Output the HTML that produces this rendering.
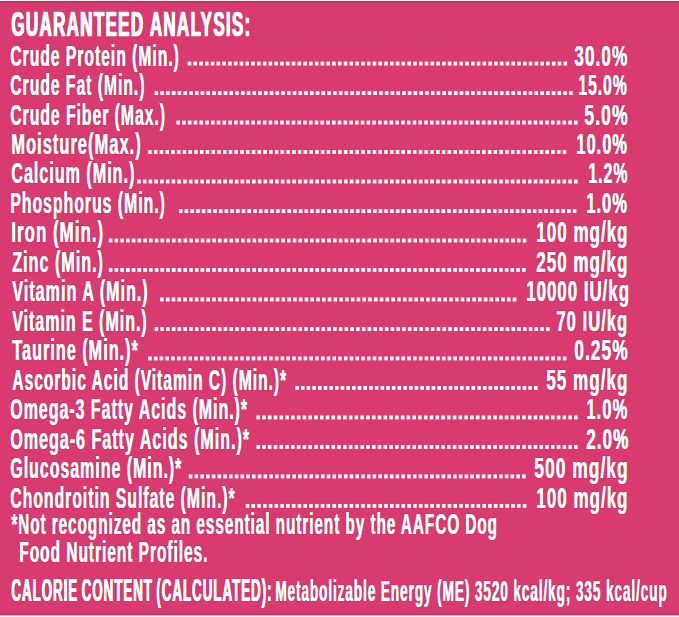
<!DOCTYPE html>
<html><head><meta charset="utf-8"><style>
html,body{margin:0;padding:0;}
body{width:679px;height:617px;overflow:hidden;background:#d93a70;position:relative;font-family:"Liberation Sans",sans-serif;font-weight:bold;color:#fff;}
.t{position:absolute;white-space:nowrap;line-height:1;transform-origin:0 0;-webkit-text-stroke-color:#fff;}
.bt{position:absolute;left:0;width:679px;}
</style></head><body>
<div class="bt" style="top:0;height:1px;background:#fbf0f8"></div><div class="bt" style="top:1px;height:1px;background:#a83a62"></div><div class="bt" style="top:2px;height:1px;background:#c23a6a"></div>
<div class="bt" style="top:608px;height:6px;background:#d43a70"></div><div class="bt" style="top:614px;height:1px;background:#b03262"></div><div class="bt" style="top:615px;height:1px;background:#e6aac4"></div><div class="bt" style="top:616px;height:1px;background:#fcf4fa"></div>
<div class="t" id="title" style="left:11.04px;top:6.76px;font-size:34.9px;letter-spacing:2.6px;-webkit-text-stroke-width:0.6px;text-shadow:1.6px 0 0 #fff,0.8px 0 0 #fff,0 0 1.5px rgba(100,0,40,0.9);transform:scaleX(0.4887)">GUARANTEED ANALYSIS:</div>
<div class="t" id="l0" style="left:9.92px;top:40.53px;font-size:29.5px;letter-spacing:1.8px;text-shadow:0.9px 0 0 #fff,0 0 1.5px rgba(100,0,40,0.9);transform:scaleX(0.5333)">Crude Protein (Min.)</div>
<div class="t" id="v0" style="left:574.17px;top:40.53px;font-size:29.5px;letter-spacing:1.8px;text-shadow:0.9px 0 0 #fff,0 0 1.5px rgba(100,0,40,0.9);transform:scaleX(0.5827)">30.0%</div>
<div class="t" id="l1" style="left:9.91px;top:70.02px;font-size:29.5px;letter-spacing:1.8px;text-shadow:0.9px 0 0 #fff,0 0 1.5px rgba(100,0,40,0.9);transform:scaleX(0.5335)">Crude Fat (Min.)</div>
<div class="t" id="v1" style="left:578.34px;top:70.02px;font-size:29.5px;letter-spacing:1.8px;text-shadow:0.9px 0 0 #fff,0 0 1.5px rgba(100,0,40,0.9);transform:scaleX(0.5353)">15.0%</div>
<div class="t" id="l2" style="left:9.91px;top:99.51px;font-size:29.5px;letter-spacing:1.8px;text-shadow:0.9px 0 0 #fff,0 0 1.5px rgba(100,0,40,0.9);transform:scaleX(0.5342)">Crude Fiber (Max.)</div>
<div class="t" id="v2" style="left:584.19px;top:99.51px;font-size:29.5px;letter-spacing:1.8px;text-shadow:0.9px 0 0 #fff,0 0 1.5px rgba(100,0,40,0.9);transform:scaleX(0.5968)">5.0%</div>
<div class="t" id="l3" style="left:10.89px;top:129.00px;font-size:29.5px;letter-spacing:1.8px;text-shadow:0.9px 0 0 #fff,0 0 1.5px rgba(100,0,40,0.9);transform:scaleX(0.5589)">Moisture(Max.)</div>
<div class="t" id="v3" style="left:576.29px;top:129.00px;font-size:29.5px;letter-spacing:1.8px;text-shadow:0.9px 0 0 #fff,0 0 1.5px rgba(100,0,40,0.9);transform:scaleX(0.5587)">10.0%</div>
<div class="t" id="l4" style="left:10.89px;top:158.49px;font-size:29.5px;letter-spacing:1.8px;text-shadow:0.9px 0 0 #fff,0 0 1.5px rgba(100,0,40,0.9);transform:scaleX(0.5469)">Calcium (Min.)</div>
<div class="t" id="v4" style="left:587.94px;top:158.49px;font-size:29.5px;letter-spacing:1.8px;text-shadow:0.9px 0 0 #fff,0 0 1.5px rgba(100,0,40,0.9);transform:scaleX(0.5397)">1.2%</div>
<div class="t" id="l5" style="left:9.91px;top:187.98px;font-size:29.5px;letter-spacing:1.8px;text-shadow:0.9px 0 0 #fff,0 0 1.5px rgba(100,0,40,0.9);transform:scaleX(0.5374)">Phosphorus (Min.)</div>
<div class="t" id="v5" style="left:586.28px;top:187.98px;font-size:29.5px;letter-spacing:1.8px;text-shadow:0.9px 0 0 #fff,0 0 1.5px rgba(100,0,40,0.9);transform:scaleX(0.5596)">1.0%</div>
<div class="t" id="l6" style="left:10.88px;top:217.47px;font-size:29.5px;letter-spacing:1.8px;text-shadow:0.9px 0 0 #fff,0 0 1.5px rgba(100,0,40,0.9);transform:scaleX(0.5719)">Iron (Min.)</div>
<div class="t" id="v6" style="left:536.21px;top:217.47px;font-size:29.5px;letter-spacing:1.8px;text-shadow:0.9px 0 0 #fff,0 0 1.5px rgba(100,0,40,0.9);transform:scaleX(0.5748)">100 mg/kg</div>
<div class="t" id="l7" style="left:11.79px;top:246.96px;font-size:29.5px;letter-spacing:1.8px;text-shadow:0.9px 0 0 #fff,0 0 1.5px rgba(100,0,40,0.9);transform:scaleX(0.5478)">Zinc (Min.)</div>
<div class="t" id="v7" style="left:536.14px;top:246.96px;font-size:29.5px;letter-spacing:1.8px;text-shadow:0.9px 0 0 #fff,0 0 1.5px rgba(100,0,40,0.9);transform:scaleX(0.5745)">250 mg/kg</div>
<div class="t" id="l8" style="left:11.80px;top:276.45px;font-size:29.5px;letter-spacing:1.8px;text-shadow:0.9px 0 0 #fff,0 0 1.5px rgba(100,0,40,0.9);transform:scaleX(0.5481)">Vitamin A (Min.)</div>
<div class="t" id="v8" style="left:525.68px;top:276.45px;font-size:29.5px;letter-spacing:1.8px;text-shadow:0.9px 0 0 #fff,0 0 1.5px rgba(100,0,40,0.9);transform:scaleX(0.5692)">10000 IU/kg</div>
<div class="t" id="l9" style="left:11.79px;top:305.94px;font-size:29.5px;letter-spacing:1.8px;text-shadow:0.9px 0 0 #fff,0 0 1.5px rgba(100,0,40,0.9);transform:scaleX(0.5426)">Vitamin E (Min.)</div>
<div class="t" id="v9" style="left:556.29px;top:305.94px;font-size:29.5px;letter-spacing:1.8px;text-shadow:0.9px 0 0 #fff,0 0 1.5px rgba(100,0,40,0.9);transform:scaleX(0.5650)">70 IU/kg</div>
<div class="t" id="l10" style="left:11.80px;top:335.43px;font-size:29.5px;letter-spacing:1.8px;text-shadow:0.9px 0 0 #fff,0 0 1.5px rgba(100,0,40,0.9);transform:scaleX(0.5510)">Taurine (Min.)*</div>
<div class="t" id="v10" style="left:574.41px;top:335.43px;font-size:29.5px;letter-spacing:1.8px;text-shadow:0.9px 0 0 #fff,0 0 1.5px rgba(100,0,40,0.9);transform:scaleX(0.5863)">0.25%</div>
<div class="t" id="l11" style="left:11.79px;top:364.92px;font-size:29.5px;letter-spacing:1.8px;text-shadow:0.9px 0 0 #fff,0 0 1.5px rgba(100,0,40,0.9);transform:scaleX(0.5301)">Ascorbic Acid (Vitamin C) (Min.)*</div>
<div class="t" id="v11" style="left:546.24px;top:364.92px;font-size:29.5px;letter-spacing:1.8px;text-shadow:0.9px 0 0 #fff,0 0 1.5px rgba(100,0,40,0.9);transform:scaleX(0.5774)">55 mg/kg</div>
<div class="t" id="l12" style="left:9.90px;top:394.41px;font-size:29.5px;letter-spacing:1.8px;text-shadow:0.9px 0 0 #fff,0 0 1.5px rgba(100,0,40,0.9);transform:scaleX(0.5414)">Omega-3 Fatty Acids (Min.)*</div>
<div class="t" id="v12" style="left:586.40px;top:394.41px;font-size:29.5px;letter-spacing:1.8px;text-shadow:0.9px 0 0 #fff,0 0 1.5px rgba(100,0,40,0.9);transform:scaleX(0.5658)">1.0%</div>
<div class="t" id="l13" style="left:9.90px;top:423.90px;font-size:29.5px;letter-spacing:1.8px;text-shadow:0.9px 0 0 #fff,0 0 1.5px rgba(100,0,40,0.9);transform:scaleX(0.5458)">Omega-6 Fatty Acids (Min.)*</div>
<div class="t" id="v13" style="left:585.77px;top:423.90px;font-size:29.5px;letter-spacing:1.8px;text-shadow:0.9px 0 0 #fff,0 0 1.5px rgba(100,0,40,0.9);transform:scaleX(0.5789)">2.0%</div>
<div class="t" id="l14" style="left:9.90px;top:453.39px;font-size:29.5px;letter-spacing:1.8px;text-shadow:0.9px 0 0 #fff,0 0 1.5px rgba(100,0,40,0.9);transform:scaleX(0.5414)">Glucosamine (Min.)*</div>
<div class="t" id="v14" style="left:534.21px;top:453.39px;font-size:29.5px;letter-spacing:1.8px;text-shadow:0.9px 0 0 #fff,0 0 1.5px rgba(100,0,40,0.9);transform:scaleX(0.5883)">500 mg/kg</div>
<div class="t" id="l15" style="left:9.92px;top:482.88px;font-size:29.5px;letter-spacing:1.8px;text-shadow:0.9px 0 0 #fff,0 0 1.5px rgba(100,0,40,0.9);transform:scaleX(0.5359)">Chondroitin Sulfate (Min.)*</div>
<div class="t" id="v15" style="left:536.21px;top:482.88px;font-size:29.5px;letter-spacing:1.8px;text-shadow:0.9px 0 0 #fff,0 0 1.5px rgba(100,0,40,0.9);transform:scaleX(0.5748)">100 mg/kg</div>
<div class="t" id="f1" style="left:11.03px;top:509.17px;font-size:29.8px;letter-spacing:1.8px;text-shadow:0.9px 0 0 #fff,0 0 1.5px rgba(100,0,40,0.9);transform:scaleX(0.5154)">*Not recognized as an essential nutrient by the AAFCO Dog</div>
<div class="t" id="f2" style="left:19.36px;top:537.17px;font-size:29.8px;letter-spacing:1.8px;text-shadow:0.9px 0 0 #fff,0 0 1.5px rgba(100,0,40,0.9);transform:scaleX(0.5217)">Food Nutrient Profiles.</div>
<div class="t" id="c1" style="left:10.92px;top:573.51px;font-size:32px;letter-spacing:2.2px;word-spacing:-3px;text-shadow:1.5px 0 0 #fff,0.75px 0 0 #fff,0 0 1.5px rgba(100,0,40,0.9);transform:scaleX(0.4195)">CALORIE CONTENT (CALCULATED):</div>
<div class="t" id="c2" style="left:274.96px;top:575.67px;font-size:29.8px;letter-spacing:1.8px;text-shadow:0.9px 0 0 #fff,0 0 1.5px rgba(100,0,40,0.9);transform:scaleX(0.4614)">Metabolizable Energy (ME) 3520 kcal/kg; 335 kcal/cup</div>
<svg width="679" height="617" style="position:absolute;left:0;top:0"><g fill="#fff"><rect x="187.60" y="61.60" width="3.6" height="3.9"/><rect x="193.38" y="61.60" width="3.6" height="3.9"/><rect x="199.17" y="61.60" width="3.6" height="3.9"/><rect x="204.95" y="61.60" width="3.6" height="3.9"/><rect x="210.73" y="61.60" width="3.6" height="3.9"/><rect x="216.52" y="61.60" width="3.6" height="3.9"/><rect x="222.30" y="61.60" width="3.6" height="3.9"/><rect x="228.08" y="61.60" width="3.6" height="3.9"/><rect x="233.86" y="61.60" width="3.6" height="3.9"/><rect x="239.65" y="61.60" width="3.6" height="3.9"/><rect x="245.43" y="61.60" width="3.6" height="3.9"/><rect x="251.21" y="61.60" width="3.6" height="3.9"/><rect x="257.00" y="61.60" width="3.6" height="3.9"/><rect x="262.78" y="61.60" width="3.6" height="3.9"/><rect x="268.56" y="61.60" width="3.6" height="3.9"/><rect x="274.35" y="61.60" width="3.6" height="3.9"/><rect x="280.13" y="61.60" width="3.6" height="3.9"/><rect x="285.91" y="61.60" width="3.6" height="3.9"/><rect x="291.70" y="61.60" width="3.6" height="3.9"/><rect x="297.48" y="61.60" width="3.6" height="3.9"/><rect x="303.26" y="61.60" width="3.6" height="3.9"/><rect x="309.04" y="61.60" width="3.6" height="3.9"/><rect x="314.83" y="61.60" width="3.6" height="3.9"/><rect x="320.61" y="61.60" width="3.6" height="3.9"/><rect x="326.39" y="61.60" width="3.6" height="3.9"/><rect x="332.18" y="61.60" width="3.6" height="3.9"/><rect x="337.96" y="61.60" width="3.6" height="3.9"/><rect x="343.74" y="61.60" width="3.6" height="3.9"/><rect x="349.53" y="61.60" width="3.6" height="3.9"/><rect x="355.31" y="61.60" width="3.6" height="3.9"/><rect x="361.09" y="61.60" width="3.6" height="3.9"/><rect x="366.88" y="61.60" width="3.6" height="3.9"/><rect x="372.66" y="61.60" width="3.6" height="3.9"/><rect x="378.44" y="61.60" width="3.6" height="3.9"/><rect x="384.22" y="61.60" width="3.6" height="3.9"/><rect x="390.01" y="61.60" width="3.6" height="3.9"/><rect x="395.79" y="61.60" width="3.6" height="3.9"/><rect x="401.57" y="61.60" width="3.6" height="3.9"/><rect x="407.36" y="61.60" width="3.6" height="3.9"/><rect x="413.14" y="61.60" width="3.6" height="3.9"/><rect x="418.92" y="61.60" width="3.6" height="3.9"/><rect x="424.71" y="61.60" width="3.6" height="3.9"/><rect x="430.49" y="61.60" width="3.6" height="3.9"/><rect x="436.27" y="61.60" width="3.6" height="3.9"/><rect x="442.06" y="61.60" width="3.6" height="3.9"/><rect x="447.84" y="61.60" width="3.6" height="3.9"/><rect x="453.62" y="61.60" width="3.6" height="3.9"/><rect x="459.40" y="61.60" width="3.6" height="3.9"/><rect x="465.19" y="61.60" width="3.6" height="3.9"/><rect x="470.97" y="61.60" width="3.6" height="3.9"/><rect x="476.75" y="61.60" width="3.6" height="3.9"/><rect x="482.54" y="61.60" width="3.6" height="3.9"/><rect x="488.32" y="61.60" width="3.6" height="3.9"/><rect x="494.10" y="61.60" width="3.6" height="3.9"/><rect x="499.89" y="61.60" width="3.6" height="3.9"/><rect x="505.67" y="61.60" width="3.6" height="3.9"/><rect x="511.45" y="61.60" width="3.6" height="3.9"/><rect x="517.24" y="61.60" width="3.6" height="3.9"/><rect x="523.02" y="61.60" width="3.6" height="3.9"/><rect x="528.80" y="61.60" width="3.6" height="3.9"/><rect x="534.58" y="61.60" width="3.6" height="3.9"/><rect x="540.37" y="61.60" width="3.6" height="3.9"/><rect x="546.15" y="61.60" width="3.6" height="3.9"/><rect x="551.93" y="61.60" width="3.6" height="3.9"/><rect x="557.72" y="61.60" width="3.6" height="3.9"/><rect x="563.50" y="61.60" width="3.6" height="3.9"/><rect x="154.60" y="91.09" width="3.6" height="3.9"/><rect x="160.36" y="91.09" width="3.6" height="3.9"/><rect x="166.11" y="91.09" width="3.6" height="3.9"/><rect x="171.87" y="91.09" width="3.6" height="3.9"/><rect x="177.62" y="91.09" width="3.6" height="3.9"/><rect x="183.38" y="91.09" width="3.6" height="3.9"/><rect x="189.13" y="91.09" width="3.6" height="3.9"/><rect x="194.89" y="91.09" width="3.6" height="3.9"/><rect x="200.64" y="91.09" width="3.6" height="3.9"/><rect x="206.40" y="91.09" width="3.6" height="3.9"/><rect x="212.16" y="91.09" width="3.6" height="3.9"/><rect x="217.91" y="91.09" width="3.6" height="3.9"/><rect x="223.67" y="91.09" width="3.6" height="3.9"/><rect x="229.42" y="91.09" width="3.6" height="3.9"/><rect x="235.18" y="91.09" width="3.6" height="3.9"/><rect x="240.93" y="91.09" width="3.6" height="3.9"/><rect x="246.69" y="91.09" width="3.6" height="3.9"/><rect x="252.44" y="91.09" width="3.6" height="3.9"/><rect x="258.20" y="91.09" width="3.6" height="3.9"/><rect x="263.96" y="91.09" width="3.6" height="3.9"/><rect x="269.71" y="91.09" width="3.6" height="3.9"/><rect x="275.47" y="91.09" width="3.6" height="3.9"/><rect x="281.22" y="91.09" width="3.6" height="3.9"/><rect x="286.98" y="91.09" width="3.6" height="3.9"/><rect x="292.73" y="91.09" width="3.6" height="3.9"/><rect x="298.49" y="91.09" width="3.6" height="3.9"/><rect x="304.24" y="91.09" width="3.6" height="3.9"/><rect x="310.00" y="91.09" width="3.6" height="3.9"/><rect x="315.76" y="91.09" width="3.6" height="3.9"/><rect x="321.51" y="91.09" width="3.6" height="3.9"/><rect x="327.27" y="91.09" width="3.6" height="3.9"/><rect x="333.02" y="91.09" width="3.6" height="3.9"/><rect x="338.78" y="91.09" width="3.6" height="3.9"/><rect x="344.53" y="91.09" width="3.6" height="3.9"/><rect x="350.29" y="91.09" width="3.6" height="3.9"/><rect x="356.04" y="91.09" width="3.6" height="3.9"/><rect x="361.80" y="91.09" width="3.6" height="3.9"/><rect x="367.56" y="91.09" width="3.6" height="3.9"/><rect x="373.31" y="91.09" width="3.6" height="3.9"/><rect x="379.07" y="91.09" width="3.6" height="3.9"/><rect x="384.82" y="91.09" width="3.6" height="3.9"/><rect x="390.58" y="91.09" width="3.6" height="3.9"/><rect x="396.33" y="91.09" width="3.6" height="3.9"/><rect x="402.09" y="91.09" width="3.6" height="3.9"/><rect x="407.84" y="91.09" width="3.6" height="3.9"/><rect x="413.60" y="91.09" width="3.6" height="3.9"/><rect x="419.36" y="91.09" width="3.6" height="3.9"/><rect x="425.11" y="91.09" width="3.6" height="3.9"/><rect x="430.87" y="91.09" width="3.6" height="3.9"/><rect x="436.62" y="91.09" width="3.6" height="3.9"/><rect x="442.38" y="91.09" width="3.6" height="3.9"/><rect x="448.13" y="91.09" width="3.6" height="3.9"/><rect x="453.89" y="91.09" width="3.6" height="3.9"/><rect x="459.64" y="91.09" width="3.6" height="3.9"/><rect x="465.40" y="91.09" width="3.6" height="3.9"/><rect x="471.16" y="91.09" width="3.6" height="3.9"/><rect x="476.91" y="91.09" width="3.6" height="3.9"/><rect x="482.67" y="91.09" width="3.6" height="3.9"/><rect x="488.42" y="91.09" width="3.6" height="3.9"/><rect x="494.18" y="91.09" width="3.6" height="3.9"/><rect x="499.93" y="91.09" width="3.6" height="3.9"/><rect x="505.69" y="91.09" width="3.6" height="3.9"/><rect x="511.44" y="91.09" width="3.6" height="3.9"/><rect x="517.20" y="91.09" width="3.6" height="3.9"/><rect x="522.96" y="91.09" width="3.6" height="3.9"/><rect x="528.71" y="91.09" width="3.6" height="3.9"/><rect x="534.47" y="91.09" width="3.6" height="3.9"/><rect x="540.22" y="91.09" width="3.6" height="3.9"/><rect x="545.98" y="91.09" width="3.6" height="3.9"/><rect x="551.73" y="91.09" width="3.6" height="3.9"/><rect x="557.49" y="91.09" width="3.6" height="3.9"/><rect x="563.24" y="91.09" width="3.6" height="3.9"/><rect x="569.00" y="91.09" width="3.6" height="3.9"/><rect x="176.40" y="120.58" width="3.6" height="3.9"/><rect x="182.16" y="120.58" width="3.6" height="3.9"/><rect x="187.92" y="120.58" width="3.6" height="3.9"/><rect x="193.69" y="120.58" width="3.6" height="3.9"/><rect x="199.45" y="120.58" width="3.6" height="3.9"/><rect x="205.21" y="120.58" width="3.6" height="3.9"/><rect x="210.97" y="120.58" width="3.6" height="3.9"/><rect x="216.74" y="120.58" width="3.6" height="3.9"/><rect x="222.50" y="120.58" width="3.6" height="3.9"/><rect x="228.26" y="120.58" width="3.6" height="3.9"/><rect x="234.02" y="120.58" width="3.6" height="3.9"/><rect x="239.79" y="120.58" width="3.6" height="3.9"/><rect x="245.55" y="120.58" width="3.6" height="3.9"/><rect x="251.31" y="120.58" width="3.6" height="3.9"/><rect x="257.07" y="120.58" width="3.6" height="3.9"/><rect x="262.83" y="120.58" width="3.6" height="3.9"/><rect x="268.60" y="120.58" width="3.6" height="3.9"/><rect x="274.36" y="120.58" width="3.6" height="3.9"/><rect x="280.12" y="120.58" width="3.6" height="3.9"/><rect x="285.88" y="120.58" width="3.6" height="3.9"/><rect x="291.65" y="120.58" width="3.6" height="3.9"/><rect x="297.41" y="120.58" width="3.6" height="3.9"/><rect x="303.17" y="120.58" width="3.6" height="3.9"/><rect x="308.93" y="120.58" width="3.6" height="3.9"/><rect x="314.70" y="120.58" width="3.6" height="3.9"/><rect x="320.46" y="120.58" width="3.6" height="3.9"/><rect x="326.22" y="120.58" width="3.6" height="3.9"/><rect x="331.98" y="120.58" width="3.6" height="3.9"/><rect x="337.74" y="120.58" width="3.6" height="3.9"/><rect x="343.51" y="120.58" width="3.6" height="3.9"/><rect x="349.27" y="120.58" width="3.6" height="3.9"/><rect x="355.03" y="120.58" width="3.6" height="3.9"/><rect x="360.79" y="120.58" width="3.6" height="3.9"/><rect x="366.56" y="120.58" width="3.6" height="3.9"/><rect x="372.32" y="120.58" width="3.6" height="3.9"/><rect x="378.08" y="120.58" width="3.6" height="3.9"/><rect x="383.84" y="120.58" width="3.6" height="3.9"/><rect x="389.61" y="120.58" width="3.6" height="3.9"/><rect x="395.37" y="120.58" width="3.6" height="3.9"/><rect x="401.13" y="120.58" width="3.6" height="3.9"/><rect x="406.89" y="120.58" width="3.6" height="3.9"/><rect x="412.66" y="120.58" width="3.6" height="3.9"/><rect x="418.42" y="120.58" width="3.6" height="3.9"/><rect x="424.18" y="120.58" width="3.6" height="3.9"/><rect x="429.94" y="120.58" width="3.6" height="3.9"/><rect x="435.70" y="120.58" width="3.6" height="3.9"/><rect x="441.47" y="120.58" width="3.6" height="3.9"/><rect x="447.23" y="120.58" width="3.6" height="3.9"/><rect x="452.99" y="120.58" width="3.6" height="3.9"/><rect x="458.75" y="120.58" width="3.6" height="3.9"/><rect x="464.52" y="120.58" width="3.6" height="3.9"/><rect x="470.28" y="120.58" width="3.6" height="3.9"/><rect x="476.04" y="120.58" width="3.6" height="3.9"/><rect x="481.80" y="120.58" width="3.6" height="3.9"/><rect x="487.57" y="120.58" width="3.6" height="3.9"/><rect x="493.33" y="120.58" width="3.6" height="3.9"/><rect x="499.09" y="120.58" width="3.6" height="3.9"/><rect x="504.85" y="120.58" width="3.6" height="3.9"/><rect x="510.61" y="120.58" width="3.6" height="3.9"/><rect x="516.38" y="120.58" width="3.6" height="3.9"/><rect x="522.14" y="120.58" width="3.6" height="3.9"/><rect x="527.90" y="120.58" width="3.6" height="3.9"/><rect x="533.66" y="120.58" width="3.6" height="3.9"/><rect x="539.43" y="120.58" width="3.6" height="3.9"/><rect x="545.19" y="120.58" width="3.6" height="3.9"/><rect x="550.95" y="120.58" width="3.6" height="3.9"/><rect x="556.71" y="120.58" width="3.6" height="3.9"/><rect x="562.48" y="120.58" width="3.6" height="3.9"/><rect x="568.24" y="120.58" width="3.6" height="3.9"/><rect x="574.00" y="120.58" width="3.6" height="3.9"/><rect x="148.10" y="150.07" width="3.6" height="3.9"/><rect x="153.86" y="150.07" width="3.6" height="3.9"/><rect x="159.62" y="150.07" width="3.6" height="3.9"/><rect x="165.38" y="150.07" width="3.6" height="3.9"/><rect x="171.13" y="150.07" width="3.6" height="3.9"/><rect x="176.89" y="150.07" width="3.6" height="3.9"/><rect x="182.65" y="150.07" width="3.6" height="3.9"/><rect x="188.41" y="150.07" width="3.6" height="3.9"/><rect x="194.17" y="150.07" width="3.6" height="3.9"/><rect x="199.92" y="150.07" width="3.6" height="3.9"/><rect x="205.68" y="150.07" width="3.6" height="3.9"/><rect x="211.44" y="150.07" width="3.6" height="3.9"/><rect x="217.20" y="150.07" width="3.6" height="3.9"/><rect x="222.96" y="150.07" width="3.6" height="3.9"/><rect x="228.72" y="150.07" width="3.6" height="3.9"/><rect x="234.47" y="150.07" width="3.6" height="3.9"/><rect x="240.23" y="150.07" width="3.6" height="3.9"/><rect x="245.99" y="150.07" width="3.6" height="3.9"/><rect x="251.75" y="150.07" width="3.6" height="3.9"/><rect x="257.51" y="150.07" width="3.6" height="3.9"/><rect x="263.27" y="150.07" width="3.6" height="3.9"/><rect x="269.02" y="150.07" width="3.6" height="3.9"/><rect x="274.78" y="150.07" width="3.6" height="3.9"/><rect x="280.54" y="150.07" width="3.6" height="3.9"/><rect x="286.30" y="150.07" width="3.6" height="3.9"/><rect x="292.06" y="150.07" width="3.6" height="3.9"/><rect x="297.82" y="150.07" width="3.6" height="3.9"/><rect x="303.57" y="150.07" width="3.6" height="3.9"/><rect x="309.33" y="150.07" width="3.6" height="3.9"/><rect x="315.09" y="150.07" width="3.6" height="3.9"/><rect x="320.85" y="150.07" width="3.6" height="3.9"/><rect x="326.61" y="150.07" width="3.6" height="3.9"/><rect x="332.37" y="150.07" width="3.6" height="3.9"/><rect x="338.12" y="150.07" width="3.6" height="3.9"/><rect x="343.88" y="150.07" width="3.6" height="3.9"/><rect x="349.64" y="150.07" width="3.6" height="3.9"/><rect x="355.40" y="150.07" width="3.6" height="3.9"/><rect x="361.16" y="150.07" width="3.6" height="3.9"/><rect x="366.92" y="150.07" width="3.6" height="3.9"/><rect x="372.67" y="150.07" width="3.6" height="3.9"/><rect x="378.43" y="150.07" width="3.6" height="3.9"/><rect x="384.19" y="150.07" width="3.6" height="3.9"/><rect x="389.95" y="150.07" width="3.6" height="3.9"/><rect x="395.71" y="150.07" width="3.6" height="3.9"/><rect x="401.47" y="150.07" width="3.6" height="3.9"/><rect x="407.22" y="150.07" width="3.6" height="3.9"/><rect x="412.98" y="150.07" width="3.6" height="3.9"/><rect x="418.74" y="150.07" width="3.6" height="3.9"/><rect x="424.50" y="150.07" width="3.6" height="3.9"/><rect x="430.26" y="150.07" width="3.6" height="3.9"/><rect x="436.02" y="150.07" width="3.6" height="3.9"/><rect x="441.77" y="150.07" width="3.6" height="3.9"/><rect x="447.53" y="150.07" width="3.6" height="3.9"/><rect x="453.29" y="150.07" width="3.6" height="3.9"/><rect x="459.05" y="150.07" width="3.6" height="3.9"/><rect x="464.81" y="150.07" width="3.6" height="3.9"/><rect x="470.57" y="150.07" width="3.6" height="3.9"/><rect x="476.32" y="150.07" width="3.6" height="3.9"/><rect x="482.08" y="150.07" width="3.6" height="3.9"/><rect x="487.84" y="150.07" width="3.6" height="3.9"/><rect x="493.60" y="150.07" width="3.6" height="3.9"/><rect x="499.36" y="150.07" width="3.6" height="3.9"/><rect x="505.12" y="150.07" width="3.6" height="3.9"/><rect x="510.87" y="150.07" width="3.6" height="3.9"/><rect x="516.63" y="150.07" width="3.6" height="3.9"/><rect x="522.39" y="150.07" width="3.6" height="3.9"/><rect x="528.15" y="150.07" width="3.6" height="3.9"/><rect x="533.91" y="150.07" width="3.6" height="3.9"/><rect x="539.67" y="150.07" width="3.6" height="3.9"/><rect x="545.42" y="150.07" width="3.6" height="3.9"/><rect x="551.18" y="150.07" width="3.6" height="3.9"/><rect x="556.94" y="150.07" width="3.6" height="3.9"/><rect x="562.70" y="150.07" width="3.6" height="3.9"/><rect x="137.10" y="179.56" width="3.6" height="3.9"/><rect x="142.85" y="179.56" width="3.6" height="3.9"/><rect x="148.60" y="179.56" width="3.6" height="3.9"/><rect x="154.35" y="179.56" width="3.6" height="3.9"/><rect x="160.09" y="179.56" width="3.6" height="3.9"/><rect x="165.84" y="179.56" width="3.6" height="3.9"/><rect x="171.59" y="179.56" width="3.6" height="3.9"/><rect x="177.34" y="179.56" width="3.6" height="3.9"/><rect x="183.09" y="179.56" width="3.6" height="3.9"/><rect x="188.84" y="179.56" width="3.6" height="3.9"/><rect x="194.59" y="179.56" width="3.6" height="3.9"/><rect x="200.34" y="179.56" width="3.6" height="3.9"/><rect x="206.08" y="179.56" width="3.6" height="3.9"/><rect x="211.83" y="179.56" width="3.6" height="3.9"/><rect x="217.58" y="179.56" width="3.6" height="3.9"/><rect x="223.33" y="179.56" width="3.6" height="3.9"/><rect x="229.08" y="179.56" width="3.6" height="3.9"/><rect x="234.83" y="179.56" width="3.6" height="3.9"/><rect x="240.58" y="179.56" width="3.6" height="3.9"/><rect x="246.32" y="179.56" width="3.6" height="3.9"/><rect x="252.07" y="179.56" width="3.6" height="3.9"/><rect x="257.82" y="179.56" width="3.6" height="3.9"/><rect x="263.57" y="179.56" width="3.6" height="3.9"/><rect x="269.32" y="179.56" width="3.6" height="3.9"/><rect x="275.07" y="179.56" width="3.6" height="3.9"/><rect x="280.82" y="179.56" width="3.6" height="3.9"/><rect x="286.57" y="179.56" width="3.6" height="3.9"/><rect x="292.31" y="179.56" width="3.6" height="3.9"/><rect x="298.06" y="179.56" width="3.6" height="3.9"/><rect x="303.81" y="179.56" width="3.6" height="3.9"/><rect x="309.56" y="179.56" width="3.6" height="3.9"/><rect x="315.31" y="179.56" width="3.6" height="3.9"/><rect x="321.06" y="179.56" width="3.6" height="3.9"/><rect x="326.81" y="179.56" width="3.6" height="3.9"/><rect x="332.56" y="179.56" width="3.6" height="3.9"/><rect x="338.30" y="179.56" width="3.6" height="3.9"/><rect x="344.05" y="179.56" width="3.6" height="3.9"/><rect x="349.80" y="179.56" width="3.6" height="3.9"/><rect x="355.55" y="179.56" width="3.6" height="3.9"/><rect x="361.30" y="179.56" width="3.6" height="3.9"/><rect x="367.05" y="179.56" width="3.6" height="3.9"/><rect x="372.80" y="179.56" width="3.6" height="3.9"/><rect x="378.54" y="179.56" width="3.6" height="3.9"/><rect x="384.29" y="179.56" width="3.6" height="3.9"/><rect x="390.04" y="179.56" width="3.6" height="3.9"/><rect x="395.79" y="179.56" width="3.6" height="3.9"/><rect x="401.54" y="179.56" width="3.6" height="3.9"/><rect x="407.29" y="179.56" width="3.6" height="3.9"/><rect x="413.04" y="179.56" width="3.6" height="3.9"/><rect x="418.79" y="179.56" width="3.6" height="3.9"/><rect x="424.53" y="179.56" width="3.6" height="3.9"/><rect x="430.28" y="179.56" width="3.6" height="3.9"/><rect x="436.03" y="179.56" width="3.6" height="3.9"/><rect x="441.78" y="179.56" width="3.6" height="3.9"/><rect x="447.53" y="179.56" width="3.6" height="3.9"/><rect x="453.28" y="179.56" width="3.6" height="3.9"/><rect x="459.03" y="179.56" width="3.6" height="3.9"/><rect x="464.77" y="179.56" width="3.6" height="3.9"/><rect x="470.52" y="179.56" width="3.6" height="3.9"/><rect x="476.27" y="179.56" width="3.6" height="3.9"/><rect x="482.02" y="179.56" width="3.6" height="3.9"/><rect x="487.77" y="179.56" width="3.6" height="3.9"/><rect x="493.52" y="179.56" width="3.6" height="3.9"/><rect x="499.27" y="179.56" width="3.6" height="3.9"/><rect x="505.02" y="179.56" width="3.6" height="3.9"/><rect x="510.76" y="179.56" width="3.6" height="3.9"/><rect x="516.51" y="179.56" width="3.6" height="3.9"/><rect x="522.26" y="179.56" width="3.6" height="3.9"/><rect x="528.01" y="179.56" width="3.6" height="3.9"/><rect x="533.76" y="179.56" width="3.6" height="3.9"/><rect x="539.51" y="179.56" width="3.6" height="3.9"/><rect x="545.26" y="179.56" width="3.6" height="3.9"/><rect x="551.01" y="179.56" width="3.6" height="3.9"/><rect x="556.75" y="179.56" width="3.6" height="3.9"/><rect x="562.50" y="179.56" width="3.6" height="3.9"/><rect x="568.25" y="179.56" width="3.6" height="3.9"/><rect x="574.00" y="179.56" width="3.6" height="3.9"/><rect x="178.90" y="209.05" width="3.6" height="3.9"/><rect x="184.61" y="209.05" width="3.6" height="3.9"/><rect x="190.32" y="209.05" width="3.6" height="3.9"/><rect x="196.03" y="209.05" width="3.6" height="3.9"/><rect x="201.73" y="209.05" width="3.6" height="3.9"/><rect x="207.44" y="209.05" width="3.6" height="3.9"/><rect x="213.15" y="209.05" width="3.6" height="3.9"/><rect x="218.86" y="209.05" width="3.6" height="3.9"/><rect x="224.57" y="209.05" width="3.6" height="3.9"/><rect x="230.28" y="209.05" width="3.6" height="3.9"/><rect x="235.99" y="209.05" width="3.6" height="3.9"/><rect x="241.70" y="209.05" width="3.6" height="3.9"/><rect x="247.40" y="209.05" width="3.6" height="3.9"/><rect x="253.11" y="209.05" width="3.6" height="3.9"/><rect x="258.82" y="209.05" width="3.6" height="3.9"/><rect x="264.53" y="209.05" width="3.6" height="3.9"/><rect x="270.24" y="209.05" width="3.6" height="3.9"/><rect x="275.95" y="209.05" width="3.6" height="3.9"/><rect x="281.66" y="209.05" width="3.6" height="3.9"/><rect x="287.37" y="209.05" width="3.6" height="3.9"/><rect x="293.07" y="209.05" width="3.6" height="3.9"/><rect x="298.78" y="209.05" width="3.6" height="3.9"/><rect x="304.49" y="209.05" width="3.6" height="3.9"/><rect x="310.20" y="209.05" width="3.6" height="3.9"/><rect x="315.91" y="209.05" width="3.6" height="3.9"/><rect x="321.62" y="209.05" width="3.6" height="3.9"/><rect x="327.33" y="209.05" width="3.6" height="3.9"/><rect x="333.03" y="209.05" width="3.6" height="3.9"/><rect x="338.74" y="209.05" width="3.6" height="3.9"/><rect x="344.45" y="209.05" width="3.6" height="3.9"/><rect x="350.16" y="209.05" width="3.6" height="3.9"/><rect x="355.87" y="209.05" width="3.6" height="3.9"/><rect x="361.58" y="209.05" width="3.6" height="3.9"/><rect x="367.29" y="209.05" width="3.6" height="3.9"/><rect x="373.00" y="209.05" width="3.6" height="3.9"/><rect x="378.70" y="209.05" width="3.6" height="3.9"/><rect x="384.41" y="209.05" width="3.6" height="3.9"/><rect x="390.12" y="209.05" width="3.6" height="3.9"/><rect x="395.83" y="209.05" width="3.6" height="3.9"/><rect x="401.54" y="209.05" width="3.6" height="3.9"/><rect x="407.25" y="209.05" width="3.6" height="3.9"/><rect x="412.96" y="209.05" width="3.6" height="3.9"/><rect x="418.67" y="209.05" width="3.6" height="3.9"/><rect x="424.37" y="209.05" width="3.6" height="3.9"/><rect x="430.08" y="209.05" width="3.6" height="3.9"/><rect x="435.79" y="209.05" width="3.6" height="3.9"/><rect x="441.50" y="209.05" width="3.6" height="3.9"/><rect x="447.21" y="209.05" width="3.6" height="3.9"/><rect x="452.92" y="209.05" width="3.6" height="3.9"/><rect x="458.63" y="209.05" width="3.6" height="3.9"/><rect x="464.33" y="209.05" width="3.6" height="3.9"/><rect x="470.04" y="209.05" width="3.6" height="3.9"/><rect x="475.75" y="209.05" width="3.6" height="3.9"/><rect x="481.46" y="209.05" width="3.6" height="3.9"/><rect x="487.17" y="209.05" width="3.6" height="3.9"/><rect x="492.88" y="209.05" width="3.6" height="3.9"/><rect x="498.59" y="209.05" width="3.6" height="3.9"/><rect x="504.30" y="209.05" width="3.6" height="3.9"/><rect x="510.00" y="209.05" width="3.6" height="3.9"/><rect x="515.71" y="209.05" width="3.6" height="3.9"/><rect x="521.42" y="209.05" width="3.6" height="3.9"/><rect x="527.13" y="209.05" width="3.6" height="3.9"/><rect x="532.84" y="209.05" width="3.6" height="3.9"/><rect x="538.55" y="209.05" width="3.6" height="3.9"/><rect x="544.26" y="209.05" width="3.6" height="3.9"/><rect x="549.97" y="209.05" width="3.6" height="3.9"/><rect x="555.67" y="209.05" width="3.6" height="3.9"/><rect x="561.38" y="209.05" width="3.6" height="3.9"/><rect x="567.09" y="209.05" width="3.6" height="3.9"/><rect x="572.80" y="209.05" width="3.6" height="3.9"/><rect x="108.80" y="238.54" width="3.6" height="3.9"/><rect x="114.55" y="238.54" width="3.6" height="3.9"/><rect x="120.30" y="238.54" width="3.6" height="3.9"/><rect x="126.05" y="238.54" width="3.6" height="3.9"/><rect x="131.79" y="238.54" width="3.6" height="3.9"/><rect x="137.54" y="238.54" width="3.6" height="3.9"/><rect x="143.29" y="238.54" width="3.6" height="3.9"/><rect x="149.04" y="238.54" width="3.6" height="3.9"/><rect x="154.79" y="238.54" width="3.6" height="3.9"/><rect x="160.54" y="238.54" width="3.6" height="3.9"/><rect x="166.29" y="238.54" width="3.6" height="3.9"/><rect x="172.03" y="238.54" width="3.6" height="3.9"/><rect x="177.78" y="238.54" width="3.6" height="3.9"/><rect x="183.53" y="238.54" width="3.6" height="3.9"/><rect x="189.28" y="238.54" width="3.6" height="3.9"/><rect x="195.03" y="238.54" width="3.6" height="3.9"/><rect x="200.78" y="238.54" width="3.6" height="3.9"/><rect x="206.53" y="238.54" width="3.6" height="3.9"/><rect x="212.27" y="238.54" width="3.6" height="3.9"/><rect x="218.02" y="238.54" width="3.6" height="3.9"/><rect x="223.77" y="238.54" width="3.6" height="3.9"/><rect x="229.52" y="238.54" width="3.6" height="3.9"/><rect x="235.27" y="238.54" width="3.6" height="3.9"/><rect x="241.02" y="238.54" width="3.6" height="3.9"/><rect x="246.77" y="238.54" width="3.6" height="3.9"/><rect x="252.52" y="238.54" width="3.6" height="3.9"/><rect x="258.26" y="238.54" width="3.6" height="3.9"/><rect x="264.01" y="238.54" width="3.6" height="3.9"/><rect x="269.76" y="238.54" width="3.6" height="3.9"/><rect x="275.51" y="238.54" width="3.6" height="3.9"/><rect x="281.26" y="238.54" width="3.6" height="3.9"/><rect x="287.01" y="238.54" width="3.6" height="3.9"/><rect x="292.76" y="238.54" width="3.6" height="3.9"/><rect x="298.50" y="238.54" width="3.6" height="3.9"/><rect x="304.25" y="238.54" width="3.6" height="3.9"/><rect x="310.00" y="238.54" width="3.6" height="3.9"/><rect x="315.75" y="238.54" width="3.6" height="3.9"/><rect x="321.50" y="238.54" width="3.6" height="3.9"/><rect x="327.25" y="238.54" width="3.6" height="3.9"/><rect x="333.00" y="238.54" width="3.6" height="3.9"/><rect x="338.74" y="238.54" width="3.6" height="3.9"/><rect x="344.49" y="238.54" width="3.6" height="3.9"/><rect x="350.24" y="238.54" width="3.6" height="3.9"/><rect x="355.99" y="238.54" width="3.6" height="3.9"/><rect x="361.74" y="238.54" width="3.6" height="3.9"/><rect x="367.49" y="238.54" width="3.6" height="3.9"/><rect x="373.24" y="238.54" width="3.6" height="3.9"/><rect x="378.98" y="238.54" width="3.6" height="3.9"/><rect x="384.73" y="238.54" width="3.6" height="3.9"/><rect x="390.48" y="238.54" width="3.6" height="3.9"/><rect x="396.23" y="238.54" width="3.6" height="3.9"/><rect x="401.98" y="238.54" width="3.6" height="3.9"/><rect x="407.73" y="238.54" width="3.6" height="3.9"/><rect x="413.48" y="238.54" width="3.6" height="3.9"/><rect x="419.22" y="238.54" width="3.6" height="3.9"/><rect x="424.97" y="238.54" width="3.6" height="3.9"/><rect x="430.72" y="238.54" width="3.6" height="3.9"/><rect x="436.47" y="238.54" width="3.6" height="3.9"/><rect x="442.22" y="238.54" width="3.6" height="3.9"/><rect x="447.97" y="238.54" width="3.6" height="3.9"/><rect x="453.72" y="238.54" width="3.6" height="3.9"/><rect x="459.47" y="238.54" width="3.6" height="3.9"/><rect x="465.21" y="238.54" width="3.6" height="3.9"/><rect x="470.96" y="238.54" width="3.6" height="3.9"/><rect x="476.71" y="238.54" width="3.6" height="3.9"/><rect x="482.46" y="238.54" width="3.6" height="3.9"/><rect x="488.21" y="238.54" width="3.6" height="3.9"/><rect x="493.96" y="238.54" width="3.6" height="3.9"/><rect x="499.71" y="238.54" width="3.6" height="3.9"/><rect x="505.45" y="238.54" width="3.6" height="3.9"/><rect x="511.20" y="238.54" width="3.6" height="3.9"/><rect x="516.95" y="238.54" width="3.6" height="3.9"/><rect x="522.70" y="238.54" width="3.6" height="3.9"/><rect x="108.80" y="268.03" width="3.6" height="3.9"/><rect x="114.54" y="268.03" width="3.6" height="3.9"/><rect x="120.28" y="268.03" width="3.6" height="3.9"/><rect x="126.02" y="268.03" width="3.6" height="3.9"/><rect x="131.76" y="268.03" width="3.6" height="3.9"/><rect x="137.49" y="268.03" width="3.6" height="3.9"/><rect x="143.23" y="268.03" width="3.6" height="3.9"/><rect x="148.97" y="268.03" width="3.6" height="3.9"/><rect x="154.71" y="268.03" width="3.6" height="3.9"/><rect x="160.45" y="268.03" width="3.6" height="3.9"/><rect x="166.19" y="268.03" width="3.6" height="3.9"/><rect x="171.93" y="268.03" width="3.6" height="3.9"/><rect x="177.67" y="268.03" width="3.6" height="3.9"/><rect x="183.41" y="268.03" width="3.6" height="3.9"/><rect x="189.14" y="268.03" width="3.6" height="3.9"/><rect x="194.88" y="268.03" width="3.6" height="3.9"/><rect x="200.62" y="268.03" width="3.6" height="3.9"/><rect x="206.36" y="268.03" width="3.6" height="3.9"/><rect x="212.10" y="268.03" width="3.6" height="3.9"/><rect x="217.84" y="268.03" width="3.6" height="3.9"/><rect x="223.58" y="268.03" width="3.6" height="3.9"/><rect x="229.32" y="268.03" width="3.6" height="3.9"/><rect x="235.06" y="268.03" width="3.6" height="3.9"/><rect x="240.79" y="268.03" width="3.6" height="3.9"/><rect x="246.53" y="268.03" width="3.6" height="3.9"/><rect x="252.27" y="268.03" width="3.6" height="3.9"/><rect x="258.01" y="268.03" width="3.6" height="3.9"/><rect x="263.75" y="268.03" width="3.6" height="3.9"/><rect x="269.49" y="268.03" width="3.6" height="3.9"/><rect x="275.23" y="268.03" width="3.6" height="3.9"/><rect x="280.97" y="268.03" width="3.6" height="3.9"/><rect x="286.71" y="268.03" width="3.6" height="3.9"/><rect x="292.44" y="268.03" width="3.6" height="3.9"/><rect x="298.18" y="268.03" width="3.6" height="3.9"/><rect x="303.92" y="268.03" width="3.6" height="3.9"/><rect x="309.66" y="268.03" width="3.6" height="3.9"/><rect x="315.40" y="268.03" width="3.6" height="3.9"/><rect x="321.14" y="268.03" width="3.6" height="3.9"/><rect x="326.88" y="268.03" width="3.6" height="3.9"/><rect x="332.62" y="268.03" width="3.6" height="3.9"/><rect x="338.36" y="268.03" width="3.6" height="3.9"/><rect x="344.09" y="268.03" width="3.6" height="3.9"/><rect x="349.83" y="268.03" width="3.6" height="3.9"/><rect x="355.57" y="268.03" width="3.6" height="3.9"/><rect x="361.31" y="268.03" width="3.6" height="3.9"/><rect x="367.05" y="268.03" width="3.6" height="3.9"/><rect x="372.79" y="268.03" width="3.6" height="3.9"/><rect x="378.53" y="268.03" width="3.6" height="3.9"/><rect x="384.27" y="268.03" width="3.6" height="3.9"/><rect x="390.01" y="268.03" width="3.6" height="3.9"/><rect x="395.74" y="268.03" width="3.6" height="3.9"/><rect x="401.48" y="268.03" width="3.6" height="3.9"/><rect x="407.22" y="268.03" width="3.6" height="3.9"/><rect x="412.96" y="268.03" width="3.6" height="3.9"/><rect x="418.70" y="268.03" width="3.6" height="3.9"/><rect x="424.44" y="268.03" width="3.6" height="3.9"/><rect x="430.18" y="268.03" width="3.6" height="3.9"/><rect x="435.92" y="268.03" width="3.6" height="3.9"/><rect x="441.66" y="268.03" width="3.6" height="3.9"/><rect x="447.39" y="268.03" width="3.6" height="3.9"/><rect x="453.13" y="268.03" width="3.6" height="3.9"/><rect x="458.87" y="268.03" width="3.6" height="3.9"/><rect x="464.61" y="268.03" width="3.6" height="3.9"/><rect x="470.35" y="268.03" width="3.6" height="3.9"/><rect x="476.09" y="268.03" width="3.6" height="3.9"/><rect x="481.83" y="268.03" width="3.6" height="3.9"/><rect x="487.57" y="268.03" width="3.6" height="3.9"/><rect x="493.31" y="268.03" width="3.6" height="3.9"/><rect x="499.04" y="268.03" width="3.6" height="3.9"/><rect x="504.78" y="268.03" width="3.6" height="3.9"/><rect x="510.52" y="268.03" width="3.6" height="3.9"/><rect x="516.26" y="268.03" width="3.6" height="3.9"/><rect x="522.00" y="268.03" width="3.6" height="3.9"/><rect x="160.10" y="297.52" width="3.6" height="3.9"/><rect x="165.88" y="297.52" width="3.6" height="3.9"/><rect x="171.66" y="297.52" width="3.6" height="3.9"/><rect x="177.44" y="297.52" width="3.6" height="3.9"/><rect x="183.22" y="297.52" width="3.6" height="3.9"/><rect x="189.00" y="297.52" width="3.6" height="3.9"/><rect x="194.78" y="297.52" width="3.6" height="3.9"/><rect x="200.56" y="297.52" width="3.6" height="3.9"/><rect x="206.34" y="297.52" width="3.6" height="3.9"/><rect x="212.12" y="297.52" width="3.6" height="3.9"/><rect x="217.90" y="297.52" width="3.6" height="3.9"/><rect x="223.68" y="297.52" width="3.6" height="3.9"/><rect x="229.46" y="297.52" width="3.6" height="3.9"/><rect x="235.24" y="297.52" width="3.6" height="3.9"/><rect x="241.02" y="297.52" width="3.6" height="3.9"/><rect x="246.80" y="297.52" width="3.6" height="3.9"/><rect x="252.59" y="297.52" width="3.6" height="3.9"/><rect x="258.37" y="297.52" width="3.6" height="3.9"/><rect x="264.15" y="297.52" width="3.6" height="3.9"/><rect x="269.93" y="297.52" width="3.6" height="3.9"/><rect x="275.71" y="297.52" width="3.6" height="3.9"/><rect x="281.49" y="297.52" width="3.6" height="3.9"/><rect x="287.27" y="297.52" width="3.6" height="3.9"/><rect x="293.05" y="297.52" width="3.6" height="3.9"/><rect x="298.83" y="297.52" width="3.6" height="3.9"/><rect x="304.61" y="297.52" width="3.6" height="3.9"/><rect x="310.39" y="297.52" width="3.6" height="3.9"/><rect x="316.17" y="297.52" width="3.6" height="3.9"/><rect x="321.95" y="297.52" width="3.6" height="3.9"/><rect x="327.73" y="297.52" width="3.6" height="3.9"/><rect x="333.51" y="297.52" width="3.6" height="3.9"/><rect x="339.29" y="297.52" width="3.6" height="3.9"/><rect x="345.07" y="297.52" width="3.6" height="3.9"/><rect x="350.85" y="297.52" width="3.6" height="3.9"/><rect x="356.63" y="297.52" width="3.6" height="3.9"/><rect x="362.41" y="297.52" width="3.6" height="3.9"/><rect x="368.19" y="297.52" width="3.6" height="3.9"/><rect x="373.97" y="297.52" width="3.6" height="3.9"/><rect x="379.75" y="297.52" width="3.6" height="3.9"/><rect x="385.53" y="297.52" width="3.6" height="3.9"/><rect x="391.31" y="297.52" width="3.6" height="3.9"/><rect x="397.09" y="297.52" width="3.6" height="3.9"/><rect x="402.87" y="297.52" width="3.6" height="3.9"/><rect x="408.65" y="297.52" width="3.6" height="3.9"/><rect x="414.43" y="297.52" width="3.6" height="3.9"/><rect x="420.21" y="297.52" width="3.6" height="3.9"/><rect x="426.00" y="297.52" width="3.6" height="3.9"/><rect x="431.78" y="297.52" width="3.6" height="3.9"/><rect x="437.56" y="297.52" width="3.6" height="3.9"/><rect x="443.34" y="297.52" width="3.6" height="3.9"/><rect x="449.12" y="297.52" width="3.6" height="3.9"/><rect x="454.90" y="297.52" width="3.6" height="3.9"/><rect x="460.68" y="297.52" width="3.6" height="3.9"/><rect x="466.46" y="297.52" width="3.6" height="3.9"/><rect x="472.24" y="297.52" width="3.6" height="3.9"/><rect x="478.02" y="297.52" width="3.6" height="3.9"/><rect x="483.80" y="297.52" width="3.6" height="3.9"/><rect x="489.58" y="297.52" width="3.6" height="3.9"/><rect x="495.36" y="297.52" width="3.6" height="3.9"/><rect x="501.14" y="297.52" width="3.6" height="3.9"/><rect x="506.92" y="297.52" width="3.6" height="3.9"/><rect x="512.70" y="297.52" width="3.6" height="3.9"/><rect x="154.60" y="327.01" width="3.6" height="3.9"/><rect x="160.36" y="327.01" width="3.6" height="3.9"/><rect x="166.11" y="327.01" width="3.6" height="3.9"/><rect x="171.87" y="327.01" width="3.6" height="3.9"/><rect x="177.62" y="327.01" width="3.6" height="3.9"/><rect x="183.38" y="327.01" width="3.6" height="3.9"/><rect x="189.14" y="327.01" width="3.6" height="3.9"/><rect x="194.89" y="327.01" width="3.6" height="3.9"/><rect x="200.65" y="327.01" width="3.6" height="3.9"/><rect x="206.40" y="327.01" width="3.6" height="3.9"/><rect x="212.16" y="327.01" width="3.6" height="3.9"/><rect x="217.91" y="327.01" width="3.6" height="3.9"/><rect x="223.67" y="327.01" width="3.6" height="3.9"/><rect x="229.43" y="327.01" width="3.6" height="3.9"/><rect x="235.18" y="327.01" width="3.6" height="3.9"/><rect x="240.94" y="327.01" width="3.6" height="3.9"/><rect x="246.69" y="327.01" width="3.6" height="3.9"/><rect x="252.45" y="327.01" width="3.6" height="3.9"/><rect x="258.21" y="327.01" width="3.6" height="3.9"/><rect x="263.96" y="327.01" width="3.6" height="3.9"/><rect x="269.72" y="327.01" width="3.6" height="3.9"/><rect x="275.47" y="327.01" width="3.6" height="3.9"/><rect x="281.23" y="327.01" width="3.6" height="3.9"/><rect x="286.99" y="327.01" width="3.6" height="3.9"/><rect x="292.74" y="327.01" width="3.6" height="3.9"/><rect x="298.50" y="327.01" width="3.6" height="3.9"/><rect x="304.25" y="327.01" width="3.6" height="3.9"/><rect x="310.01" y="327.01" width="3.6" height="3.9"/><rect x="315.76" y="327.01" width="3.6" height="3.9"/><rect x="321.52" y="327.01" width="3.6" height="3.9"/><rect x="327.28" y="327.01" width="3.6" height="3.9"/><rect x="333.03" y="327.01" width="3.6" height="3.9"/><rect x="338.79" y="327.01" width="3.6" height="3.9"/><rect x="344.54" y="327.01" width="3.6" height="3.9"/><rect x="350.30" y="327.01" width="3.6" height="3.9"/><rect x="356.06" y="327.01" width="3.6" height="3.9"/><rect x="361.81" y="327.01" width="3.6" height="3.9"/><rect x="367.57" y="327.01" width="3.6" height="3.9"/><rect x="373.32" y="327.01" width="3.6" height="3.9"/><rect x="379.08" y="327.01" width="3.6" height="3.9"/><rect x="384.84" y="327.01" width="3.6" height="3.9"/><rect x="390.59" y="327.01" width="3.6" height="3.9"/><rect x="396.35" y="327.01" width="3.6" height="3.9"/><rect x="402.10" y="327.01" width="3.6" height="3.9"/><rect x="407.86" y="327.01" width="3.6" height="3.9"/><rect x="413.61" y="327.01" width="3.6" height="3.9"/><rect x="419.37" y="327.01" width="3.6" height="3.9"/><rect x="425.13" y="327.01" width="3.6" height="3.9"/><rect x="430.88" y="327.01" width="3.6" height="3.9"/><rect x="436.64" y="327.01" width="3.6" height="3.9"/><rect x="442.39" y="327.01" width="3.6" height="3.9"/><rect x="448.15" y="327.01" width="3.6" height="3.9"/><rect x="453.91" y="327.01" width="3.6" height="3.9"/><rect x="459.66" y="327.01" width="3.6" height="3.9"/><rect x="465.42" y="327.01" width="3.6" height="3.9"/><rect x="471.17" y="327.01" width="3.6" height="3.9"/><rect x="476.93" y="327.01" width="3.6" height="3.9"/><rect x="482.69" y="327.01" width="3.6" height="3.9"/><rect x="488.44" y="327.01" width="3.6" height="3.9"/><rect x="494.20" y="327.01" width="3.6" height="3.9"/><rect x="499.95" y="327.01" width="3.6" height="3.9"/><rect x="505.71" y="327.01" width="3.6" height="3.9"/><rect x="511.46" y="327.01" width="3.6" height="3.9"/><rect x="517.22" y="327.01" width="3.6" height="3.9"/><rect x="522.98" y="327.01" width="3.6" height="3.9"/><rect x="528.73" y="327.01" width="3.6" height="3.9"/><rect x="534.49" y="327.01" width="3.6" height="3.9"/><rect x="540.24" y="327.01" width="3.6" height="3.9"/><rect x="546.00" y="327.01" width="3.6" height="3.9"/><rect x="148.10" y="356.50" width="3.6" height="3.9"/><rect x="153.86" y="356.50" width="3.6" height="3.9"/><rect x="159.62" y="356.50" width="3.6" height="3.9"/><rect x="165.38" y="356.50" width="3.6" height="3.9"/><rect x="171.14" y="356.50" width="3.6" height="3.9"/><rect x="176.90" y="356.50" width="3.6" height="3.9"/><rect x="182.66" y="356.50" width="3.6" height="3.9"/><rect x="188.42" y="356.50" width="3.6" height="3.9"/><rect x="194.18" y="356.50" width="3.6" height="3.9"/><rect x="199.94" y="356.50" width="3.6" height="3.9"/><rect x="205.70" y="356.50" width="3.6" height="3.9"/><rect x="211.46" y="356.50" width="3.6" height="3.9"/><rect x="217.22" y="356.50" width="3.6" height="3.9"/><rect x="222.98" y="356.50" width="3.6" height="3.9"/><rect x="228.74" y="356.50" width="3.6" height="3.9"/><rect x="234.50" y="356.50" width="3.6" height="3.9"/><rect x="240.26" y="356.50" width="3.6" height="3.9"/><rect x="246.02" y="356.50" width="3.6" height="3.9"/><rect x="251.77" y="356.50" width="3.6" height="3.9"/><rect x="257.53" y="356.50" width="3.6" height="3.9"/><rect x="263.29" y="356.50" width="3.6" height="3.9"/><rect x="269.05" y="356.50" width="3.6" height="3.9"/><rect x="274.81" y="356.50" width="3.6" height="3.9"/><rect x="280.57" y="356.50" width="3.6" height="3.9"/><rect x="286.33" y="356.50" width="3.6" height="3.9"/><rect x="292.09" y="356.50" width="3.6" height="3.9"/><rect x="297.85" y="356.50" width="3.6" height="3.9"/><rect x="303.61" y="356.50" width="3.6" height="3.9"/><rect x="309.37" y="356.50" width="3.6" height="3.9"/><rect x="315.13" y="356.50" width="3.6" height="3.9"/><rect x="320.89" y="356.50" width="3.6" height="3.9"/><rect x="326.65" y="356.50" width="3.6" height="3.9"/><rect x="332.41" y="356.50" width="3.6" height="3.9"/><rect x="338.17" y="356.50" width="3.6" height="3.9"/><rect x="343.93" y="356.50" width="3.6" height="3.9"/><rect x="349.69" y="356.50" width="3.6" height="3.9"/><rect x="355.45" y="356.50" width="3.6" height="3.9"/><rect x="361.21" y="356.50" width="3.6" height="3.9"/><rect x="366.97" y="356.50" width="3.6" height="3.9"/><rect x="372.73" y="356.50" width="3.6" height="3.9"/><rect x="378.49" y="356.50" width="3.6" height="3.9"/><rect x="384.25" y="356.50" width="3.6" height="3.9"/><rect x="390.01" y="356.50" width="3.6" height="3.9"/><rect x="395.77" y="356.50" width="3.6" height="3.9"/><rect x="401.53" y="356.50" width="3.6" height="3.9"/><rect x="407.29" y="356.50" width="3.6" height="3.9"/><rect x="413.05" y="356.50" width="3.6" height="3.9"/><rect x="418.81" y="356.50" width="3.6" height="3.9"/><rect x="424.57" y="356.50" width="3.6" height="3.9"/><rect x="430.33" y="356.50" width="3.6" height="3.9"/><rect x="436.09" y="356.50" width="3.6" height="3.9"/><rect x="441.85" y="356.50" width="3.6" height="3.9"/><rect x="447.61" y="356.50" width="3.6" height="3.9"/><rect x="453.37" y="356.50" width="3.6" height="3.9"/><rect x="459.12" y="356.50" width="3.6" height="3.9"/><rect x="464.88" y="356.50" width="3.6" height="3.9"/><rect x="470.64" y="356.50" width="3.6" height="3.9"/><rect x="476.40" y="356.50" width="3.6" height="3.9"/><rect x="482.16" y="356.50" width="3.6" height="3.9"/><rect x="487.92" y="356.50" width="3.6" height="3.9"/><rect x="493.68" y="356.50" width="3.6" height="3.9"/><rect x="499.44" y="356.50" width="3.6" height="3.9"/><rect x="505.20" y="356.50" width="3.6" height="3.9"/><rect x="510.96" y="356.50" width="3.6" height="3.9"/><rect x="516.72" y="356.50" width="3.6" height="3.9"/><rect x="522.48" y="356.50" width="3.6" height="3.9"/><rect x="528.24" y="356.50" width="3.6" height="3.9"/><rect x="534.00" y="356.50" width="3.6" height="3.9"/><rect x="539.76" y="356.50" width="3.6" height="3.9"/><rect x="545.52" y="356.50" width="3.6" height="3.9"/><rect x="551.28" y="356.50" width="3.6" height="3.9"/><rect x="557.04" y="356.50" width="3.6" height="3.9"/><rect x="562.80" y="356.50" width="3.6" height="3.9"/><rect x="295.20" y="385.99" width="3.6" height="3.9"/><rect x="300.89" y="385.99" width="3.6" height="3.9"/><rect x="306.57" y="385.99" width="3.6" height="3.9"/><rect x="312.26" y="385.99" width="3.6" height="3.9"/><rect x="317.94" y="385.99" width="3.6" height="3.9"/><rect x="323.63" y="385.99" width="3.6" height="3.9"/><rect x="329.31" y="385.99" width="3.6" height="3.9"/><rect x="335.00" y="385.99" width="3.6" height="3.9"/><rect x="340.69" y="385.99" width="3.6" height="3.9"/><rect x="346.37" y="385.99" width="3.6" height="3.9"/><rect x="352.06" y="385.99" width="3.6" height="3.9"/><rect x="357.74" y="385.99" width="3.6" height="3.9"/><rect x="363.43" y="385.99" width="3.6" height="3.9"/><rect x="369.11" y="385.99" width="3.6" height="3.9"/><rect x="374.80" y="385.99" width="3.6" height="3.9"/><rect x="380.49" y="385.99" width="3.6" height="3.9"/><rect x="386.17" y="385.99" width="3.6" height="3.9"/><rect x="391.86" y="385.99" width="3.6" height="3.9"/><rect x="397.54" y="385.99" width="3.6" height="3.9"/><rect x="403.23" y="385.99" width="3.6" height="3.9"/><rect x="408.91" y="385.99" width="3.6" height="3.9"/><rect x="414.60" y="385.99" width="3.6" height="3.9"/><rect x="420.29" y="385.99" width="3.6" height="3.9"/><rect x="425.97" y="385.99" width="3.6" height="3.9"/><rect x="431.66" y="385.99" width="3.6" height="3.9"/><rect x="437.34" y="385.99" width="3.6" height="3.9"/><rect x="443.03" y="385.99" width="3.6" height="3.9"/><rect x="448.71" y="385.99" width="3.6" height="3.9"/><rect x="454.40" y="385.99" width="3.6" height="3.9"/><rect x="460.09" y="385.99" width="3.6" height="3.9"/><rect x="465.77" y="385.99" width="3.6" height="3.9"/><rect x="471.46" y="385.99" width="3.6" height="3.9"/><rect x="477.14" y="385.99" width="3.6" height="3.9"/><rect x="482.83" y="385.99" width="3.6" height="3.9"/><rect x="488.51" y="385.99" width="3.6" height="3.9"/><rect x="494.20" y="385.99" width="3.6" height="3.9"/><rect x="499.89" y="385.99" width="3.6" height="3.9"/><rect x="505.57" y="385.99" width="3.6" height="3.9"/><rect x="511.26" y="385.99" width="3.6" height="3.9"/><rect x="516.94" y="385.99" width="3.6" height="3.9"/><rect x="522.63" y="385.99" width="3.6" height="3.9"/><rect x="528.31" y="385.99" width="3.6" height="3.9"/><rect x="534.00" y="385.99" width="3.6" height="3.9"/><rect x="256.40" y="415.48" width="3.6" height="3.9"/><rect x="262.18" y="415.48" width="3.6" height="3.9"/><rect x="267.95" y="415.48" width="3.6" height="3.9"/><rect x="273.73" y="415.48" width="3.6" height="3.9"/><rect x="279.51" y="415.48" width="3.6" height="3.9"/><rect x="285.28" y="415.48" width="3.6" height="3.9"/><rect x="291.06" y="415.48" width="3.6" height="3.9"/><rect x="296.83" y="415.48" width="3.6" height="3.9"/><rect x="302.61" y="415.48" width="3.6" height="3.9"/><rect x="308.39" y="415.48" width="3.6" height="3.9"/><rect x="314.16" y="415.48" width="3.6" height="3.9"/><rect x="319.94" y="415.48" width="3.6" height="3.9"/><rect x="325.72" y="415.48" width="3.6" height="3.9"/><rect x="331.49" y="415.48" width="3.6" height="3.9"/><rect x="337.27" y="415.48" width="3.6" height="3.9"/><rect x="343.05" y="415.48" width="3.6" height="3.9"/><rect x="348.82" y="415.48" width="3.6" height="3.9"/><rect x="354.60" y="415.48" width="3.6" height="3.9"/><rect x="360.37" y="415.48" width="3.6" height="3.9"/><rect x="366.15" y="415.48" width="3.6" height="3.9"/><rect x="371.93" y="415.48" width="3.6" height="3.9"/><rect x="377.70" y="415.48" width="3.6" height="3.9"/><rect x="383.48" y="415.48" width="3.6" height="3.9"/><rect x="389.26" y="415.48" width="3.6" height="3.9"/><rect x="395.03" y="415.48" width="3.6" height="3.9"/><rect x="400.81" y="415.48" width="3.6" height="3.9"/><rect x="406.59" y="415.48" width="3.6" height="3.9"/><rect x="412.36" y="415.48" width="3.6" height="3.9"/><rect x="418.14" y="415.48" width="3.6" height="3.9"/><rect x="423.91" y="415.48" width="3.6" height="3.9"/><rect x="429.69" y="415.48" width="3.6" height="3.9"/><rect x="435.47" y="415.48" width="3.6" height="3.9"/><rect x="441.24" y="415.48" width="3.6" height="3.9"/><rect x="447.02" y="415.48" width="3.6" height="3.9"/><rect x="452.80" y="415.48" width="3.6" height="3.9"/><rect x="458.57" y="415.48" width="3.6" height="3.9"/><rect x="464.35" y="415.48" width="3.6" height="3.9"/><rect x="470.13" y="415.48" width="3.6" height="3.9"/><rect x="475.90" y="415.48" width="3.6" height="3.9"/><rect x="481.68" y="415.48" width="3.6" height="3.9"/><rect x="487.45" y="415.48" width="3.6" height="3.9"/><rect x="493.23" y="415.48" width="3.6" height="3.9"/><rect x="499.01" y="415.48" width="3.6" height="3.9"/><rect x="504.78" y="415.48" width="3.6" height="3.9"/><rect x="510.56" y="415.48" width="3.6" height="3.9"/><rect x="516.34" y="415.48" width="3.6" height="3.9"/><rect x="522.11" y="415.48" width="3.6" height="3.9"/><rect x="527.89" y="415.48" width="3.6" height="3.9"/><rect x="533.67" y="415.48" width="3.6" height="3.9"/><rect x="539.44" y="415.48" width="3.6" height="3.9"/><rect x="545.22" y="415.48" width="3.6" height="3.9"/><rect x="550.99" y="415.48" width="3.6" height="3.9"/><rect x="556.77" y="415.48" width="3.6" height="3.9"/><rect x="562.55" y="415.48" width="3.6" height="3.9"/><rect x="568.32" y="415.48" width="3.6" height="3.9"/><rect x="574.10" y="415.48" width="3.6" height="3.9"/><rect x="256.40" y="444.97" width="3.6" height="3.9"/><rect x="262.18" y="444.97" width="3.6" height="3.9"/><rect x="267.95" y="444.97" width="3.6" height="3.9"/><rect x="273.73" y="444.97" width="3.6" height="3.9"/><rect x="279.51" y="444.97" width="3.6" height="3.9"/><rect x="285.28" y="444.97" width="3.6" height="3.9"/><rect x="291.06" y="444.97" width="3.6" height="3.9"/><rect x="296.83" y="444.97" width="3.6" height="3.9"/><rect x="302.61" y="444.97" width="3.6" height="3.9"/><rect x="308.39" y="444.97" width="3.6" height="3.9"/><rect x="314.16" y="444.97" width="3.6" height="3.9"/><rect x="319.94" y="444.97" width="3.6" height="3.9"/><rect x="325.72" y="444.97" width="3.6" height="3.9"/><rect x="331.49" y="444.97" width="3.6" height="3.9"/><rect x="337.27" y="444.97" width="3.6" height="3.9"/><rect x="343.05" y="444.97" width="3.6" height="3.9"/><rect x="348.82" y="444.97" width="3.6" height="3.9"/><rect x="354.60" y="444.97" width="3.6" height="3.9"/><rect x="360.37" y="444.97" width="3.6" height="3.9"/><rect x="366.15" y="444.97" width="3.6" height="3.9"/><rect x="371.93" y="444.97" width="3.6" height="3.9"/><rect x="377.70" y="444.97" width="3.6" height="3.9"/><rect x="383.48" y="444.97" width="3.6" height="3.9"/><rect x="389.26" y="444.97" width="3.6" height="3.9"/><rect x="395.03" y="444.97" width="3.6" height="3.9"/><rect x="400.81" y="444.97" width="3.6" height="3.9"/><rect x="406.59" y="444.97" width="3.6" height="3.9"/><rect x="412.36" y="444.97" width="3.6" height="3.9"/><rect x="418.14" y="444.97" width="3.6" height="3.9"/><rect x="423.91" y="444.97" width="3.6" height="3.9"/><rect x="429.69" y="444.97" width="3.6" height="3.9"/><rect x="435.47" y="444.97" width="3.6" height="3.9"/><rect x="441.24" y="444.97" width="3.6" height="3.9"/><rect x="447.02" y="444.97" width="3.6" height="3.9"/><rect x="452.80" y="444.97" width="3.6" height="3.9"/><rect x="458.57" y="444.97" width="3.6" height="3.9"/><rect x="464.35" y="444.97" width="3.6" height="3.9"/><rect x="470.13" y="444.97" width="3.6" height="3.9"/><rect x="475.90" y="444.97" width="3.6" height="3.9"/><rect x="481.68" y="444.97" width="3.6" height="3.9"/><rect x="487.45" y="444.97" width="3.6" height="3.9"/><rect x="493.23" y="444.97" width="3.6" height="3.9"/><rect x="499.01" y="444.97" width="3.6" height="3.9"/><rect x="504.78" y="444.97" width="3.6" height="3.9"/><rect x="510.56" y="444.97" width="3.6" height="3.9"/><rect x="516.34" y="444.97" width="3.6" height="3.9"/><rect x="522.11" y="444.97" width="3.6" height="3.9"/><rect x="527.89" y="444.97" width="3.6" height="3.9"/><rect x="533.67" y="444.97" width="3.6" height="3.9"/><rect x="539.44" y="444.97" width="3.6" height="3.9"/><rect x="545.22" y="444.97" width="3.6" height="3.9"/><rect x="550.99" y="444.97" width="3.6" height="3.9"/><rect x="556.77" y="444.97" width="3.6" height="3.9"/><rect x="562.55" y="444.97" width="3.6" height="3.9"/><rect x="568.32" y="444.97" width="3.6" height="3.9"/><rect x="574.10" y="444.97" width="3.6" height="3.9"/><rect x="188.80" y="474.46" width="3.6" height="3.9"/><rect x="194.54" y="474.46" width="3.6" height="3.9"/><rect x="200.29" y="474.46" width="3.6" height="3.9"/><rect x="206.03" y="474.46" width="3.6" height="3.9"/><rect x="211.78" y="474.46" width="3.6" height="3.9"/><rect x="217.52" y="474.46" width="3.6" height="3.9"/><rect x="223.27" y="474.46" width="3.6" height="3.9"/><rect x="229.01" y="474.46" width="3.6" height="3.9"/><rect x="234.76" y="474.46" width="3.6" height="3.9"/><rect x="240.50" y="474.46" width="3.6" height="3.9"/><rect x="246.25" y="474.46" width="3.6" height="3.9"/><rect x="251.99" y="474.46" width="3.6" height="3.9"/><rect x="257.74" y="474.46" width="3.6" height="3.9"/><rect x="263.48" y="474.46" width="3.6" height="3.9"/><rect x="269.23" y="474.46" width="3.6" height="3.9"/><rect x="274.97" y="474.46" width="3.6" height="3.9"/><rect x="280.72" y="474.46" width="3.6" height="3.9"/><rect x="286.46" y="474.46" width="3.6" height="3.9"/><rect x="292.21" y="474.46" width="3.6" height="3.9"/><rect x="297.95" y="474.46" width="3.6" height="3.9"/><rect x="303.70" y="474.46" width="3.6" height="3.9"/><rect x="309.44" y="474.46" width="3.6" height="3.9"/><rect x="315.19" y="474.46" width="3.6" height="3.9"/><rect x="320.93" y="474.46" width="3.6" height="3.9"/><rect x="326.68" y="474.46" width="3.6" height="3.9"/><rect x="332.42" y="474.46" width="3.6" height="3.9"/><rect x="338.17" y="474.46" width="3.6" height="3.9"/><rect x="343.91" y="474.46" width="3.6" height="3.9"/><rect x="349.66" y="474.46" width="3.6" height="3.9"/><rect x="355.40" y="474.46" width="3.6" height="3.9"/><rect x="361.14" y="474.46" width="3.6" height="3.9"/><rect x="366.89" y="474.46" width="3.6" height="3.9"/><rect x="372.63" y="474.46" width="3.6" height="3.9"/><rect x="378.38" y="474.46" width="3.6" height="3.9"/><rect x="384.12" y="474.46" width="3.6" height="3.9"/><rect x="389.87" y="474.46" width="3.6" height="3.9"/><rect x="395.61" y="474.46" width="3.6" height="3.9"/><rect x="401.36" y="474.46" width="3.6" height="3.9"/><rect x="407.10" y="474.46" width="3.6" height="3.9"/><rect x="412.85" y="474.46" width="3.6" height="3.9"/><rect x="418.59" y="474.46" width="3.6" height="3.9"/><rect x="424.34" y="474.46" width="3.6" height="3.9"/><rect x="430.08" y="474.46" width="3.6" height="3.9"/><rect x="435.83" y="474.46" width="3.6" height="3.9"/><rect x="441.57" y="474.46" width="3.6" height="3.9"/><rect x="447.32" y="474.46" width="3.6" height="3.9"/><rect x="453.06" y="474.46" width="3.6" height="3.9"/><rect x="458.81" y="474.46" width="3.6" height="3.9"/><rect x="464.55" y="474.46" width="3.6" height="3.9"/><rect x="470.30" y="474.46" width="3.6" height="3.9"/><rect x="476.04" y="474.46" width="3.6" height="3.9"/><rect x="481.79" y="474.46" width="3.6" height="3.9"/><rect x="487.53" y="474.46" width="3.6" height="3.9"/><rect x="493.28" y="474.46" width="3.6" height="3.9"/><rect x="499.02" y="474.46" width="3.6" height="3.9"/><rect x="504.77" y="474.46" width="3.6" height="3.9"/><rect x="510.51" y="474.46" width="3.6" height="3.9"/><rect x="516.26" y="474.46" width="3.6" height="3.9"/><rect x="522.00" y="474.46" width="3.6" height="3.9"/><rect x="245.70" y="503.95" width="3.6" height="3.9"/><rect x="251.47" y="503.95" width="3.6" height="3.9"/><rect x="257.24" y="503.95" width="3.6" height="3.9"/><rect x="263.01" y="503.95" width="3.6" height="3.9"/><rect x="268.78" y="503.95" width="3.6" height="3.9"/><rect x="274.55" y="503.95" width="3.6" height="3.9"/><rect x="280.32" y="503.95" width="3.6" height="3.9"/><rect x="286.10" y="503.95" width="3.6" height="3.9"/><rect x="291.87" y="503.95" width="3.6" height="3.9"/><rect x="297.64" y="503.95" width="3.6" height="3.9"/><rect x="303.41" y="503.95" width="3.6" height="3.9"/><rect x="309.18" y="503.95" width="3.6" height="3.9"/><rect x="314.95" y="503.95" width="3.6" height="3.9"/><rect x="320.72" y="503.95" width="3.6" height="3.9"/><rect x="326.49" y="503.95" width="3.6" height="3.9"/><rect x="332.26" y="503.95" width="3.6" height="3.9"/><rect x="338.03" y="503.95" width="3.6" height="3.9"/><rect x="343.80" y="503.95" width="3.6" height="3.9"/><rect x="349.57" y="503.95" width="3.6" height="3.9"/><rect x="355.35" y="503.95" width="3.6" height="3.9"/><rect x="361.12" y="503.95" width="3.6" height="3.9"/><rect x="366.89" y="503.95" width="3.6" height="3.9"/><rect x="372.66" y="503.95" width="3.6" height="3.9"/><rect x="378.43" y="503.95" width="3.6" height="3.9"/><rect x="384.20" y="503.95" width="3.6" height="3.9"/><rect x="389.97" y="503.95" width="3.6" height="3.9"/><rect x="395.74" y="503.95" width="3.6" height="3.9"/><rect x="401.51" y="503.95" width="3.6" height="3.9"/><rect x="407.28" y="503.95" width="3.6" height="3.9"/><rect x="413.05" y="503.95" width="3.6" height="3.9"/><rect x="418.82" y="503.95" width="3.6" height="3.9"/><rect x="424.60" y="503.95" width="3.6" height="3.9"/><rect x="430.37" y="503.95" width="3.6" height="3.9"/><rect x="436.14" y="503.95" width="3.6" height="3.9"/><rect x="441.91" y="503.95" width="3.6" height="3.9"/><rect x="447.68" y="503.95" width="3.6" height="3.9"/><rect x="453.45" y="503.95" width="3.6" height="3.9"/><rect x="459.22" y="503.95" width="3.6" height="3.9"/><rect x="464.99" y="503.95" width="3.6" height="3.9"/><rect x="470.76" y="503.95" width="3.6" height="3.9"/><rect x="476.53" y="503.95" width="3.6" height="3.9"/><rect x="482.30" y="503.95" width="3.6" height="3.9"/><rect x="488.07" y="503.95" width="3.6" height="3.9"/><rect x="493.85" y="503.95" width="3.6" height="3.9"/><rect x="499.62" y="503.95" width="3.6" height="3.9"/><rect x="505.39" y="503.95" width="3.6" height="3.9"/><rect x="511.16" y="503.95" width="3.6" height="3.9"/><rect x="516.93" y="503.95" width="3.6" height="3.9"/><rect x="522.70" y="503.95" width="3.6" height="3.9"/></g></svg>
</body></html>
